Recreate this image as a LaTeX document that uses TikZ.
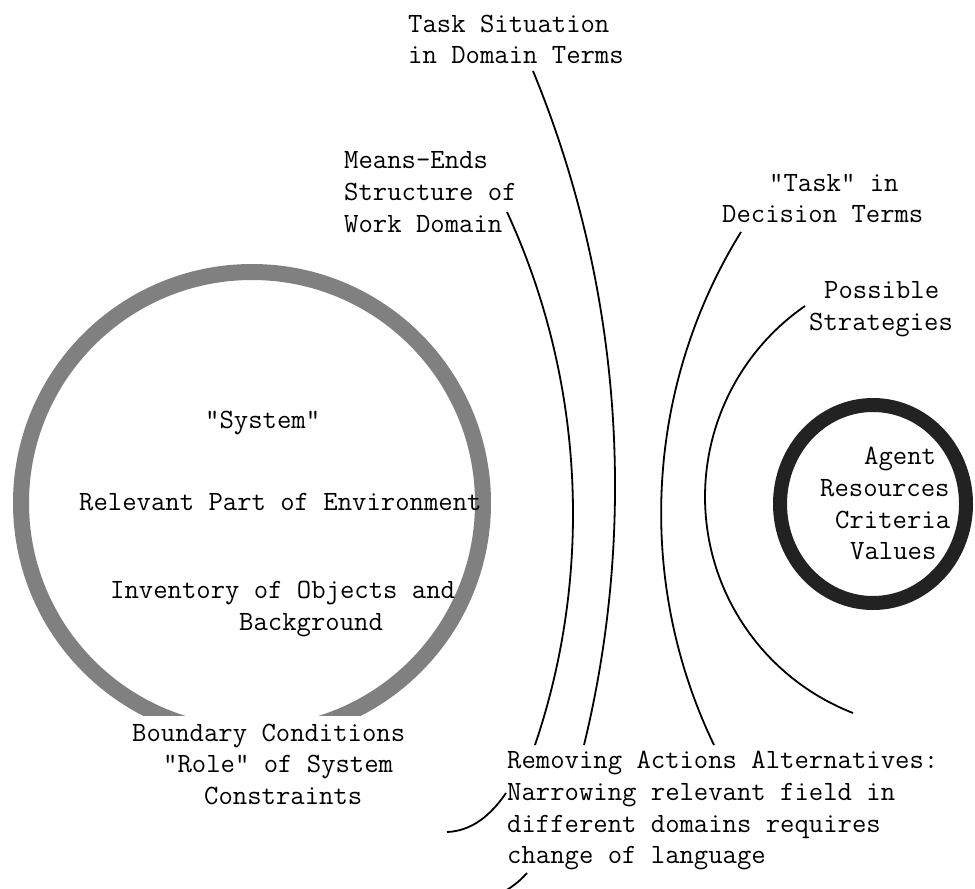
\documentclass[tikz,border=0pt]{standalone}
\usepackage{fontspec}
\definecolor{ringgray}{HTML}{808080}
\definecolor{ringdark}{HTML}{222222}
\begin{document}
\begin{tikzpicture}[x=1pt,y=-1pt,
  lbl/.style={anchor=base west,inner sep=0pt,font=\ttfamily\fontsize{27.9}{31.7}\selectfont},
  link/.style={draw=black,line width=1.8pt},
  ]
\useasboundingbox (0,0) rectangle (975,889);

% environment ring, open at the bottom where the boundary labels sit
\begin{scope}
  \clip (0,0) rectangle (975,715);
  \draw[line width=16pt,color=ringgray] (252,503) circle[radius=231pt];
\end{scope}

% agent ring
\draw[line width=14pt,color=ringdark] (873,504) ellipse[x radius=93pt,y radius=99pt];

% labels inside the environment ring
\node[lbl] (sys)  at (205,428) {"System"};
\node[lbl] (env)  at (79,510)  {Relevant Part of Environment};
\node[lbl] (inv1) at (110,598) {Inventory of Objects and};
\node[lbl] (inv2) at (239,630) {Background};

% boundary labels below the ring
\node[lbl] (bnd1) at (132,741) {Boundary Conditions};
\node[lbl] (bnd2) at (163,772.5) {"Role" of System};
\node[lbl] (bnd3) at (204,804) {Constraints};

% labels inside the agent ring
\node[lbl] (ag1) at (864,464) {Agent};
\node[lbl] (ag2) at (820,496) {Resources};
\node[lbl] (ag3) at (835,528) {Criteria};
\node[lbl] (ag4) at (850,559) {Values};

% labels of the narrowing layers
\node[lbl] (ts1) at (408,32)  {Task Situation};
\node[lbl] (ts2) at (408,63)  {in Domain Terms};
\node[lbl] (me1) at (344,168) {Means-Ends};
\node[lbl] (me2) at (344,200) {Structure of};
\node[lbl] (me3) at (344,232) {Work Domain};
\node[lbl] (dt1) at (769,191) {"Task" in};
\node[lbl] (dt2) at (722,222.5) {Decision Terms};
\node[lbl] (ps1) at (824,298.5) {Possible};
\node[lbl] (ps2) at (809,330) {Strategies};

% caption at the bottom
\node[lbl] (rm1) at (507,768) {Removing Actions Alternatives:};
\node[lbl] (rm2) at (507,800) {Narrowing relevant field in};
\node[lbl] (rm3) at (507,832) {different domains requires};
\node[lbl] (rm4) at (507,863) {change of language};

% end points of the layer arcs
\coordinate (meTop) at (507,212);
\coordinate (meBot) at (535,745);
\coordinate (tsTop) at (533,71);
\coordinate (tsBot) at (584,745);
\coordinate (dtTop) at (741,232);
\coordinate (dtBot) at (714,745);
\coordinate (psTop) at (805,306);
\coordinate (psMid) at (706.6,524);
\coordinate (psBot) at (853,713);
\coordinate (brA)  at (447,832);
\coordinate (brB)  at (506,793);
\coordinate (brC)  at (527,873);
\coordinate (brD)  at (498,895);

% layer arcs
\draw[link] (meTop) .. controls (584,379) and (594,571) .. (meBot);
\draw[link] (tsTop) .. controls (621,284.5) and (638.5,521) .. (tsBot);
\draw[link] (dtTop) .. controls (645,387) and (635,581) .. (dtBot);
\draw[link] (psTop) .. controls (734.4,354.8) and (696.6,438.8) .. (psMid)
                    .. controls (716.6,609.2) and (773.1,681.9) .. (psBot);

% brace strokes beside the caption
\draw[link] (brA) .. controls (472,831) and (491,815) .. (brB);
\draw[link] (brC) .. controls (519,882) and (511,888) .. (brD);
\end{tikzpicture}
\end{document}
